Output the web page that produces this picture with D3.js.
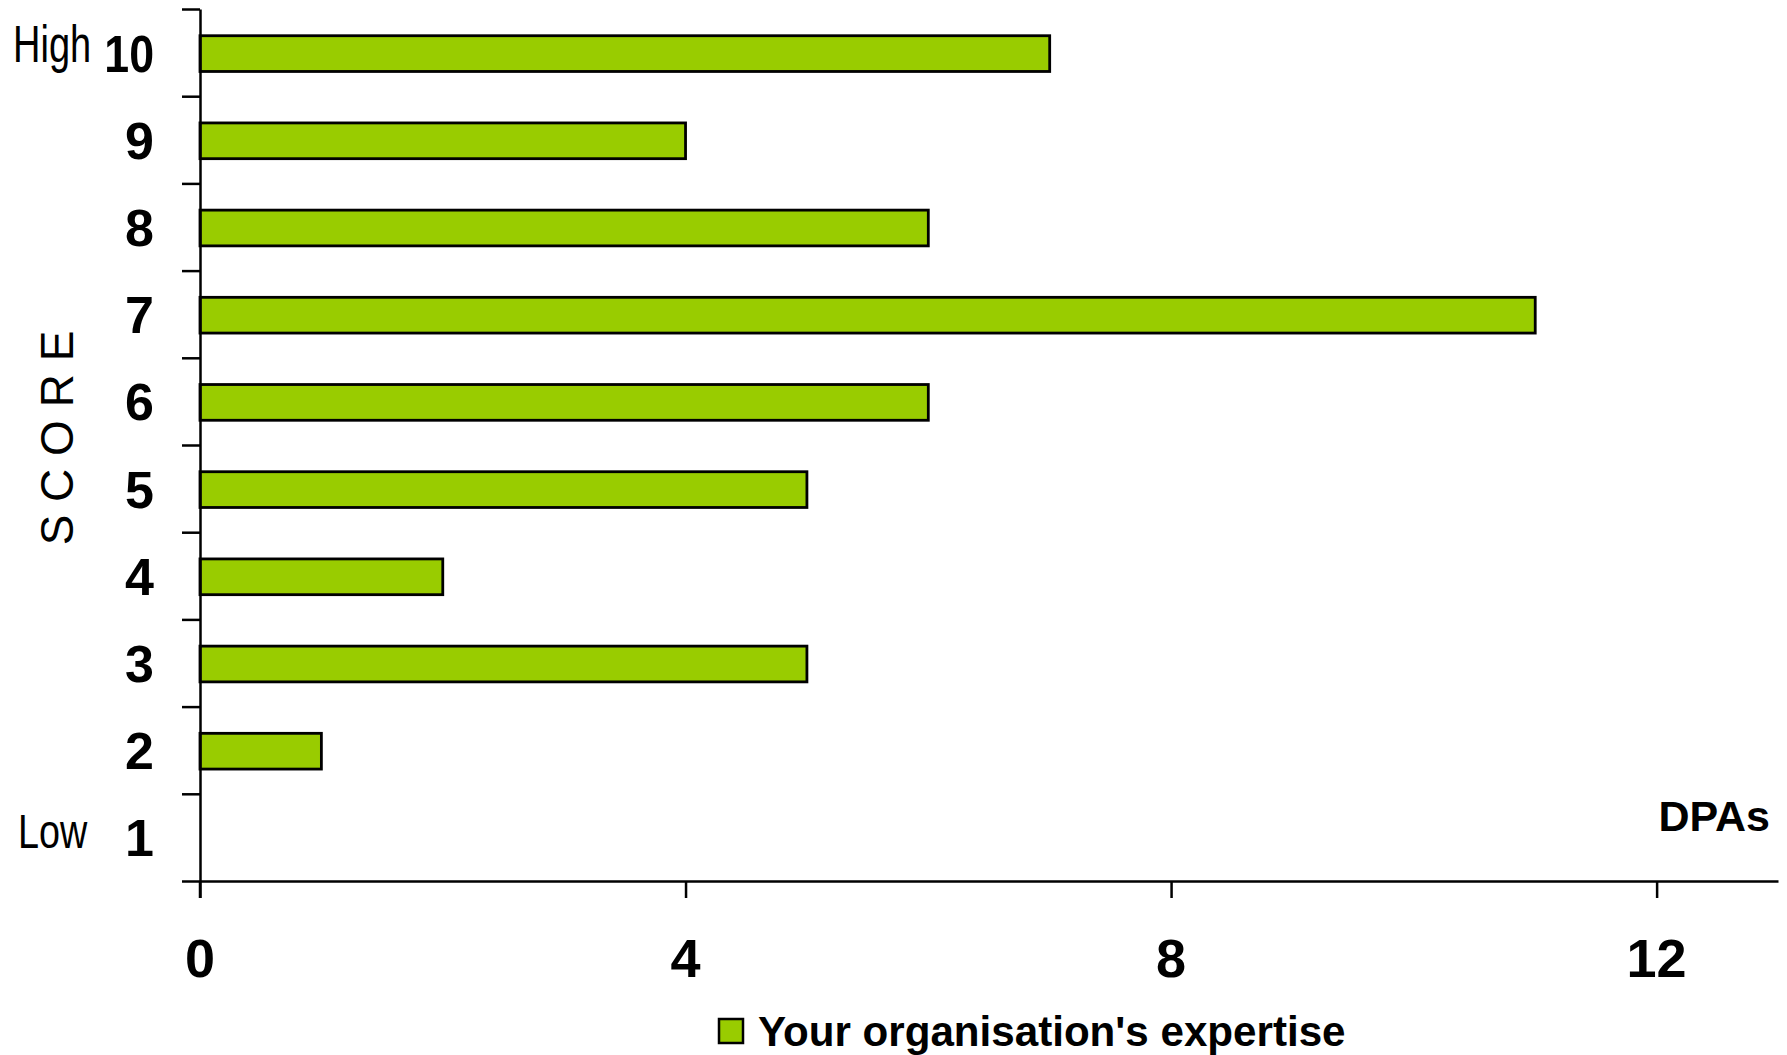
<!DOCTYPE html>
<html>
<head>
<meta charset="utf-8">
<script src="https://cdn.jsdelivr.net/npm/d3@7"></script>
<style>
  html, body { margin: 0; padding: 0; background: #fff; }
  svg { display: block; font-family: "Liberation Sans", Arial, sans-serif; }
</style>
</head>
<body>
<svg id="chart" width="1787" height="1055"></svg>
<script>
// Scores (top to bottom) and the number of DPAs at each score
const scores = [10, 9, 8, 7, 6, 5, 4, 3, 2, 1];
const dpaCounts = [7, 4, 6, 11, 6, 5, 2, 5, 1, 0];
const xTicks = [0, 4, 8, 12];
const seriesName = "Your organisation's expertise";

const svg = d3.select("#chart");
const barColor = "#99cc00";

const x = d3.scaleLinear().domain([0, 13]).range([200, 1778]);
const y = d3.scaleBand().domain(scores).range([9, 881]).padding(0);
// boundary scale for the category separators on the score axis
const yEdge = d3.scaleLinear().domain([0.5, 10.5]).range([881, 9]);

const barH = y.bandwidth() * 0.41;

// Bars
svg.append("g")
  .selectAll("rect")
  .data(scores.map((s, i) => ({ s, v: dpaCounts[i] })).filter(d => d.v > 0))
  .join("rect")
  .attr("x", x(0))
  .attr("y", d => y(d.s) + y.bandwidth() / 2 - barH / 2 + 1)
  .attr("width", d => x(d.v) - x(0))
  .attr("height", barH)
  .attr("fill", barColor)
  .attr("stroke", "#000")
  .attr("stroke-width", 2.8);

// Score axis with separators between categories
const yAxis = svg.append("g")
  .attr("transform", `translate(${x(0)},0)`)
  .call(d3.axisLeft(yEdge)
    .tickValues(d3.range(0.5, 11, 1))
    .tickFormat("")
    .tickSize(18)
    .tickSizeOuter(0));
yAxis.select(".domain").attr("stroke", "#000").attr("stroke-width", 2.5);
yAxis.selectAll(".tick line").attr("stroke", "#000").attr("stroke-width", 2.5);

// Extend the score axis down past the baseline
svg.append("line")
  .attr("x1", x(0)).attr("x2", x(0))
  .attr("y1", 881).attr("y2", 898)
  .attr("stroke", "#000").attr("stroke-width", 2.5);

// DPA axis
const xAxis = svg.append("g")
  .attr("transform", `translate(0,${yEdge(0.5)})`)
  .call(d3.axisBottom(x)
    .tickValues(xTicks)
    .tickFormat("")
    .tickSize(17)
    .tickSizeOuter(0));
xAxis.select(".domain").attr("stroke", "#000").attr("stroke-width", 2.5);
xAxis.selectAll(".tick line").attr("stroke", "#000").attr("stroke-width", 2.5);

// Score labels (the two-digit score is set slightly condensed)
svg.append("g")
  .selectAll("text")
  .data(scores)
  .join("text")
  .attr("transform", d => {
    const sx = String(d).length > 1 ? 0.86 : 1;
    return `translate(154,${y(d) + y.bandwidth() / 2 + 19}) scale(${sx},1)`;
  })
  .attr("text-anchor", "end")
  .attr("font-size", 52)
  .attr("font-weight", "bold")
  .attr("fill", "#000")
  .text(d => d);

// DPA tick labels
svg.append("g")
  .selectAll("text")
  .data(xTicks)
  .join("text")
  .attr("x", d => x(d))
  .attr("y", 977)
  .attr("text-anchor", "middle")
  .attr("font-size", 54)
  .attr("font-weight", "bold")
  .attr("fill", "#000")
  .text(d => d);

// High / Low markers, in a condensed face
svg.append("text")
  .attr("transform", "translate(13,62) scale(0.745,1)")
  .attr("font-size", 51)
  .text("High");
svg.append("text")
  .attr("transform", "translate(18,848) scale(0.77,1)")
  .attr("font-size", 49)
  .text("Low");

// Axis titles
svg.append("text")
  .attr("transform", "translate(73,438) rotate(-90)")
  .attr("text-anchor", "middle")
  .attr("font-size", 46)
  .text("S C O R E");

svg.append("text")
  .attr("x", 1770).attr("y", 831)
  .attr("text-anchor", "end")
  .attr("font-size", 43)
  .attr("font-weight", "bold")
  .text("DPAs");

// Legend
const legend = svg.append("g");
legend.append("rect")
  .attr("x", 719).attr("y", 1019)
  .attr("width", 24).attr("height", 24)
  .attr("fill", barColor)
  .attr("stroke", "#000").attr("stroke-width", 2.5);
legend.append("text")
  .attr("transform", "translate(758,1046) scale(0.98,1)")
  .attr("font-size", 43)
  .attr("font-weight", "bold")
  .text(seriesName);
</script>
</body>
</html>
